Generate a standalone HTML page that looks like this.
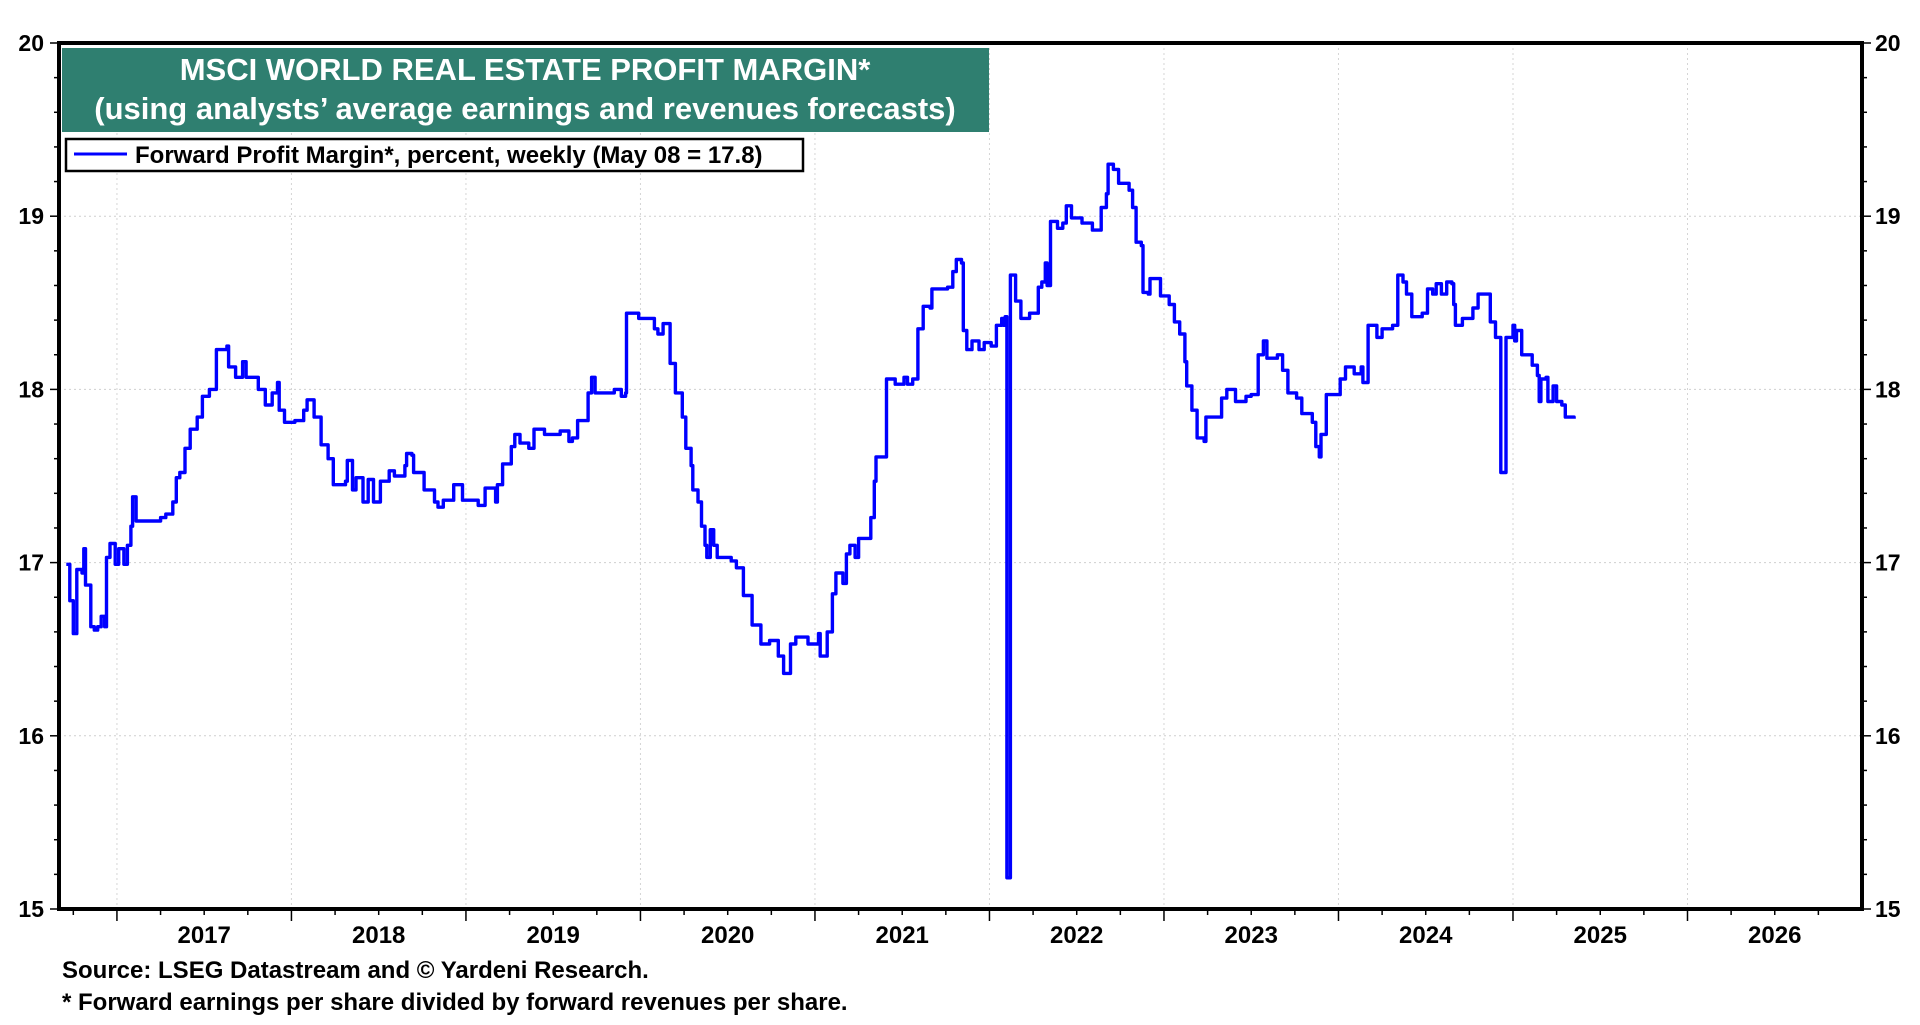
<!DOCTYPE html>
<html><head><meta charset="utf-8"><style>
html,body{margin:0;padding:0;background:#fff;}
body{width:1920px;height:1020px;overflow:hidden;font-family:"Liberation Sans",Arial,sans-serif;}
svg text{font-family:"Liberation Sans",Arial,sans-serif;font-weight:bold;}
</style></head><body>
<svg id="chart" width="1920" height="1020" viewBox="0 0 1920 1020" xmlns="http://www.w3.org/2000/svg">
<g id="grid"></g>
<g id="ticks"></g>
<g id="series"></g>
<rect x="59" y="43" width="1803" height="866" fill="none" stroke="#000" stroke-width="4"/>
<g>
<rect x="62" y="48" width="927" height="84" fill="#2f7f70"/>
<text x="525" y="80" fill="#fff" font-size="31" text-anchor="middle">MSCI WORLD REAL ESTATE PROFIT MARGIN*</text>
<text x="525" y="119" fill="#fff" font-size="31" text-anchor="middle">(using analysts’ average earnings and revenues forecasts)</text>
</g>
<g>
<rect x="66" y="139" width="737" height="32" fill="#fff" stroke="#000" stroke-width="2.5"/>
<line x1="74" y1="154" x2="127" y2="154" stroke="#0000ff" stroke-width="3"/>
<text x="135" y="163" font-size="24">Forward Profit Margin*, percent, weekly (May 08 = 17.8)</text>
</g>
<g id="ylabels"></g>
<g id="xlabels"></g>
<text x="62" y="978" font-size="24">Source: LSEG Datastream and © Yardeni Research.</text>
<text x="62" y="1010" font-size="24">* Forward earnings per share divided by forward revenues per share.</text>
</svg>
<script>
const years=[2016.71,2016.73,2016.73,2016.75,2016.77,2016.80,2016.81,2016.82,2016.85,2016.87,2016.89,2016.91,2016.93,2016.94,2016.96,2016.99,2017.01,2017.04,2017.06,2017.08,2017.09,2017.11,2017.18,2017.25,2017.28,2017.32,2017.34,2017.36,2017.39,2017.42,2017.46,2017.49,2017.53,2017.57,2017.63,2017.64,2017.68,2017.72,2017.74,2017.81,2017.85,2017.89,2017.92,2017.93,2017.96,2018.02,2018.07,2018.09,2018.13,2018.17,2018.21,2018.24,2018.31,2018.32,2018.35,2018.37,2018.41,2018.44,2018.47,2018.51,2018.56,2018.59,2018.65,2018.66,2018.69,2018.70,2018.76,2018.82,2018.84,2018.87,2018.93,2018.98,2019.07,2019.11,2019.17,2019.18,2019.21,2019.26,2019.28,2019.31,2019.36,2019.39,2019.45,2019.54,2019.59,2019.61,2019.64,2019.70,2019.72,2019.74,2019.80,2019.85,2019.89,2019.915,2019.92,2019.99,2020.05,2020.08,2020.10,2020.13,2020.16,2020.17,2020.20,2020.24,2020.26,2020.29,2020.30,2020.33,2020.35,2020.37,2020.38,2020.40,2020.42,2020.44,2020.52,2020.55,2020.59,2020.64,2020.69,2020.74,2020.79,2020.82,2020.86,2020.89,2020.96,2021.02,2021.03,2021.06,2021.07,2021.10,2021.12,2021.16,2021.18,2021.20,2021.23,2021.25,2021.31,2021.32,2021.34,2021.35,2021.39,2021.41,2021.46,2021.51,2021.53,2021.56,2021.59,2021.62,2021.66,2021.67,2021.76,2021.79,2021.81,2021.84,2021.85,2021.87,2021.90,2021.94,2021.97,2022.01,2022.04,2022.07,2022.08,2022.09,2022.10,2022.12,2022.15,2022.18,2022.23,2022.28,2022.30,2022.32,2022.33,2022.35,2022.39,2022.42,2022.44,2022.47,2022.53,2022.59,2022.64,2022.67,2022.68,2022.71,2022.74,2022.80,2022.82,2022.84,2022.87,2022.88,2022.91,2022.92,2022.95,2022.98,2023.03,2023.06,2023.09,2023.12,2023.13,2023.16,2023.19,2023.23,2023.24,2023.29,2023.33,2023.36,2023.40,2023.41,2023.47,2023.50,2023.54,2023.57,2023.59,2023.65,2023.68,2023.71,2023.76,2023.79,2023.85,2023.87,2023.89,2023.90,2023.93,2023.99,2024.01,2024.04,2024.09,2024.13,2024.14,2024.17,2024.22,2024.25,2024.31,2024.34,2024.37,2024.39,2024.42,2024.48,2024.51,2024.54,2024.56,2024.59,2024.62,2024.65,2024.66,2024.67,2024.71,2024.77,2024.80,2024.84,2024.87,2024.90,2024.91,2024.93,2024.95,2024.96,2024.98,2025.00,2025.01,2025.02,2025.05,2025.11,2025.14,2025.15,2025.16,2025.19,2025.20,2025.23,2025.25,2025.28,2025.30,2025.35];
const margins=[16.99,16.99,16.78,16.59,16.96,16.94,17.08,16.87,16.63,16.61,16.63,16.69,16.63,17.03,17.11,16.99,17.08,16.99,17.10,17.21,17.38,17.24,17.24,17.26,17.28,17.35,17.49,17.52,17.66,17.77,17.84,17.96,18.00,18.23,18.25,18.13,18.07,18.16,18.07,18.00,17.91,17.98,18.04,17.88,17.81,17.82,17.88,17.94,17.84,17.68,17.60,17.45,17.47,17.59,17.42,17.49,17.35,17.48,17.35,17.47,17.53,17.50,17.56,17.63,17.62,17.52,17.42,17.35,17.32,17.36,17.45,17.36,17.33,17.43,17.35,17.45,17.57,17.67,17.74,17.69,17.66,17.77,17.74,17.76,17.70,17.72,17.82,17.98,18.07,17.98,17.98,18.00,17.96,17.98,18.44,18.41,18.41,18.35,18.32,18.38,18.38,18.15,17.98,17.84,17.66,17.56,17.42,17.35,17.21,17.10,17.03,17.19,17.10,17.03,17.01,16.97,16.81,16.64,16.53,16.55,16.46,16.36,16.53,16.57,16.53,16.59,16.46,16.46,16.60,16.82,16.94,16.88,17.05,17.10,17.03,17.14,17.14,17.26,17.47,17.61,17.61,18.06,18.03,18.07,18.03,18.06,18.35,18.48,18.47,18.58,18.59,18.68,18.75,18.73,18.34,18.23,18.28,18.23,18.27,18.25,18.37,18.41,18.37,18.42,15.18,18.66,18.51,18.41,18.44,18.59,18.62,18.73,18.60,18.97,18.93,18.96,19.06,18.99,18.96,18.92,19.05,19.13,19.30,19.27,19.19,19.15,19.05,18.85,18.83,18.56,18.55,18.64,18.64,18.54,18.49,18.39,18.32,18.16,18.02,17.88,17.72,17.70,17.84,17.84,17.95,18.00,18.00,17.93,17.96,17.97,18.20,18.28,18.18,18.20,18.11,17.98,17.95,17.86,17.81,17.67,17.61,17.74,17.97,17.97,18.06,18.13,18.09,18.13,18.04,18.37,18.30,18.35,18.37,18.66,18.62,18.55,18.42,18.44,18.58,18.55,18.61,18.55,18.62,18.61,18.49,18.37,18.41,18.47,18.55,18.55,18.39,18.30,18.30,17.52,17.52,18.30,18.30,18.37,18.28,18.34,18.20,18.14,18.08,17.93,18.06,18.07,17.93,18.02,17.93,17.91,17.84,17.83];
const yTicks=[15,16,17,18,19,20];
const yearLabels=[2017,2018,2019,2020,2021,2022,2023,2024,2025,2026];

const NS='http://www.w3.org/2000/svg';
const L=59,R=1862,T=43,B=909;
const X0=2016.668,X1=2027.0,Y0=15,Y1=20;
function xs(t){return L+(t-X0)/(X1-X0)*(R-L);}
function ys(v){return B-(v-Y0)/(Y1-Y0)*(B-T);}
function mk(tag,attrs,parent){const e=document.createElementNS(NS,tag);for(const k in attrs)e.setAttribute(k,attrs[k]);parent.appendChild(e);return e;}
const grid=document.getElementById('grid'),ticks=document.getElementById('ticks'),yl=document.getElementById('ylabels'),xl=document.getElementById('xlabels'),ser=document.getElementById('series');
yTicks.forEach(v=>{
  const y=ys(v);
  if(v>Y0&&v<Y1){const g=mk('line',{x1:L,x2:R,y1:y,y2:y,stroke:'#cfcfcf','stroke-width':1,'stroke-dasharray':'2,3'},grid);
  
  }
  const a=mk('text',{x:44,y:y+8,'font-size':23,'text-anchor':'end'},yl);a.textContent=v;
  
  
  const b=mk('text',{x:1875,y:y+8,'font-size':23},yl);b.textContent=v;
  
  
});
for(let v=Y0;v<=Y1+1e-9;v+=0.2){
  const y=ys(v);const major=Math.abs(v-Math.round(v))<1e-6;
  const len=major?9:5;
  mk('line',{x1:L-len,x2:L,y1:y,y2:y,stroke:'#000','stroke-width':1.5},ticks);
  mk('line',{x1:R,x2:R+len,y1:y,y2:y,stroke:'#000','stroke-width':1.5},ticks);
}
for(let q=2016.75;q<X1;q+=0.25){
  const x=xs(q);const major=Math.abs(q-Math.round(q))<1e-6;
  mk('line',{x1:x,x2:x,y1:B,y2:B+(major?12:6),stroke:'#000','stroke-width':1.5},ticks);
  if(major&&q>X0){const g=mk('line',{x1:x,x2:x,y1:T,y2:B,stroke:'#d5d5d5','stroke-width':1,'stroke-dasharray':'2,3'},grid);
  
  }
}
yearLabels.forEach(yr=>{
  const t=mk('text',{x:xs(yr+0.5),y:943,'font-size':24,'text-anchor':'middle'},xl);t.textContent=yr;
  
  
});
let d='M'+xs(years[0]).toFixed(1)+','+ys(margins[0]).toFixed(1);
for(let i=1;i<years.length;i++){d+=' H'+xs(years[i]).toFixed(1)+' V'+ys(margins[i]).toFixed(1);}
const line=mk('path',{d:d,fill:'none',stroke:'#0000ff','stroke-width':3.4,'stroke-linejoin':'round'},ser);


</script>
</body></html>
